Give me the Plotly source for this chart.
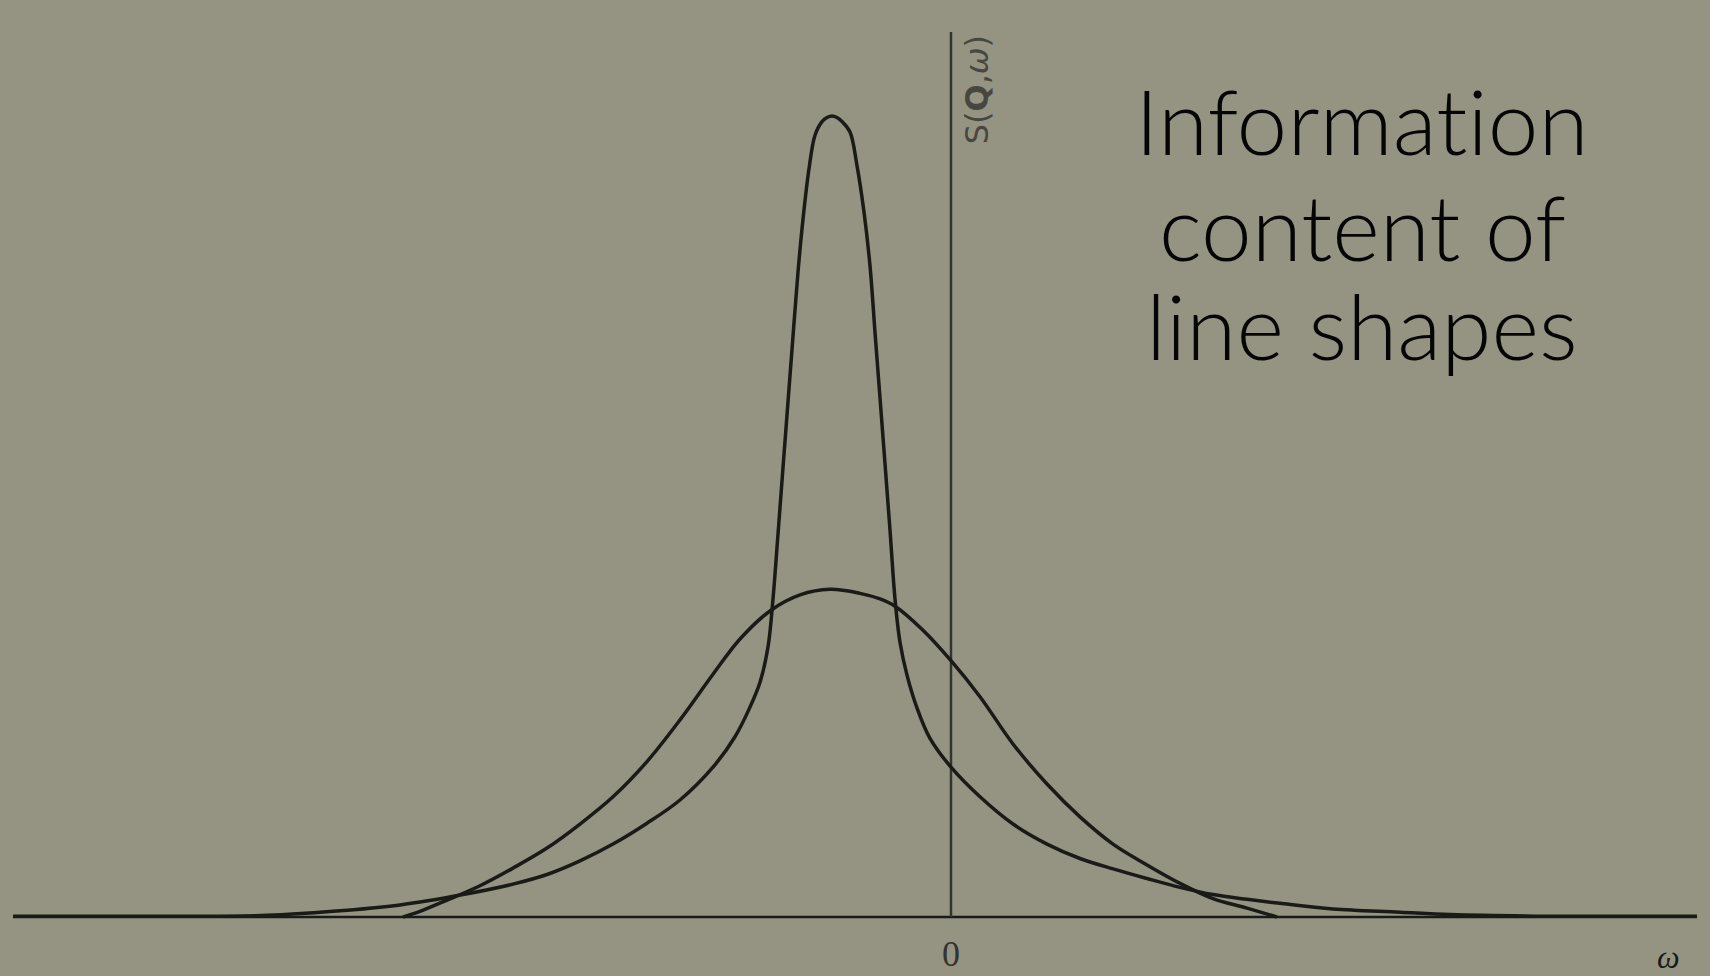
import plotly.graph_objects as go

# Energy transfer (omega, arbitrary units; 0 at the vertical axis)
omega_narrow = [-9.38, -8.01, -6.84, -6.18, -5.51, -4.88, -4.38, -4.04, -3.71, -3.38,
                -3.04, -2.71, -2.38, -2.16, -2.01, -1.91, -1.83, -1.78, -1.73, -1.68,
                -1.63, -1.58, -1.53, -1.48, -1.42, -1.36, -1.29, -1.24, -1.19, -1.14,
                -1.09, -1.01, -0.94, -0.87, -0.81, -0.76, -0.71, -0.66, -0.61, -0.56,
                -0.51, -0.44, -0.34, -0.21, 0.00, 0.29, 0.62, 0.96, 1.29, 1.62,
                1.96, 2.29, 2.62, 2.96, 3.29, 3.82, 4.49, 4.99, 5.99, 7.46]
s_narrow = [0.001, 0.001, 0.002, 0.007, 0.015, 0.028, 0.041, 0.053, 0.070, 0.091,
            0.117, 0.146, 0.187, 0.225, 0.262, 0.293, 0.337, 0.397, 0.478, 0.561,
            0.643, 0.725, 0.805, 0.871, 0.934, 0.976, 0.993, 0.998, 1.000, 0.998,
            0.993, 0.980, 0.938, 0.880, 0.813, 0.730, 0.648, 0.566, 0.483, 0.397,
            0.343, 0.302, 0.261, 0.223, 0.187, 0.150, 0.116, 0.091, 0.073, 0.060,
            0.048, 0.037, 0.028, 0.022, 0.017, 0.010, 0.006, 0.003, 0.001, 0.001]

omega_broad = [-5.48, -5.31, -5.04, -4.71, -4.38, -4.04, -3.71, -3.38, -3.04, -2.71,
               -2.38, -2.11, -1.81, -1.51, -1.21, -0.91, -0.71, -0.56, -0.28, 0.00,
               0.29, 0.62, 0.96, 1.29, 1.62, 1.96, 2.29, 2.62, 2.96, 3.26]
s_broad = [0.000, 0.007, 0.021, 0.039, 0.061, 0.086, 0.116, 0.150, 0.194, 0.246,
           0.303, 0.347, 0.382, 0.402, 0.409, 0.404, 0.397, 0.388, 0.358, 0.320,
           0.275, 0.216, 0.166, 0.125, 0.091, 0.065, 0.042, 0.023, 0.011, 0.000]

title_lines = ["Information", "content of", "line shapes"]
x_label = "ω"
y_label = "S(<b>Q</b>,<i>ω</i>)"
origin_label = "0"

# Axis extents in data units
OMEGA_MIN, OMEGA_MAX = -9.38, 7.46
S_AXIS_TOP = 1.105

PAPER = "#959483"
INK = "#1a1a16"
PRINT_GREY = "#34342f"

fig = go.Figure()

for w, s in [(omega_broad, s_broad), (omega_narrow, s_narrow)]:
    fig.add_trace(go.Scatter(
        x=w, y=s, mode="lines",
        line=dict(color=INK, width=3.5, shape="spline", smoothing=1.0),
        hoverinfo="skip", showlegend=False,
    ))

# Horizontal (omega) and vertical (S) axes
fig.add_shape(type="line", x0=OMEGA_MIN, x1=OMEGA_MAX, y0=0, y1=0,
              line=dict(color=INK, width=2.6), layer="below")
fig.add_shape(type="line", x0=0, x1=0, y0=0, y1=S_AXIS_TOP,
              line=dict(color=PRINT_GREY, width=2.5), layer="below")

fig.add_annotation(x=0, y=-0.046, text=origin_label, showarrow=False,
                   font=dict(family="Liberation Serif", size=36, color=PRINT_GREY))
fig.add_annotation(x=7.17, y=-0.050, text=f"<i>{x_label}</i>", showarrow=False,
                   font=dict(family="Liberation Serif", size=32, color=INK))
fig.add_annotation(x=0.26, y=1.032, text=y_label, showarrow=False, textangle=-90,
                   font=dict(family="DejaVu Sans", size=32, color="#474740"))

# Title block, one annotation per line; ligatures switched off so "ti" stays two letters
title_y_px = [119, 225, 325]
for line, ypx in zip(title_lines, title_y_px):
    fig.add_annotation(xref="paper", yref="paper", x=1362 / 1710, y=1 - ypx / 976,
                       text=f"<span style='font-variant-ligatures:none;"
                            f"font-feature-settings:\"liga\" 0'>{line}</span>",
                       showarrow=False, xanchor="center", yanchor="middle",
                       font=dict(family="Lato", size=91, color="#050505", weight=300))

fig.update_layout(
    width=1710, height=976,
    margin=dict(l=0, r=0, t=0, b=0),
    paper_bgcolor=PAPER, plot_bgcolor=PAPER,
    xaxis=dict(range=[-9.51, 7.59], visible=False, fixedrange=True),
    yaxis=dict(range=[-0.0737, 1.1448], visible=False, fixedrange=True),
    showlegend=False,
)

fig.write_html("out.html")
